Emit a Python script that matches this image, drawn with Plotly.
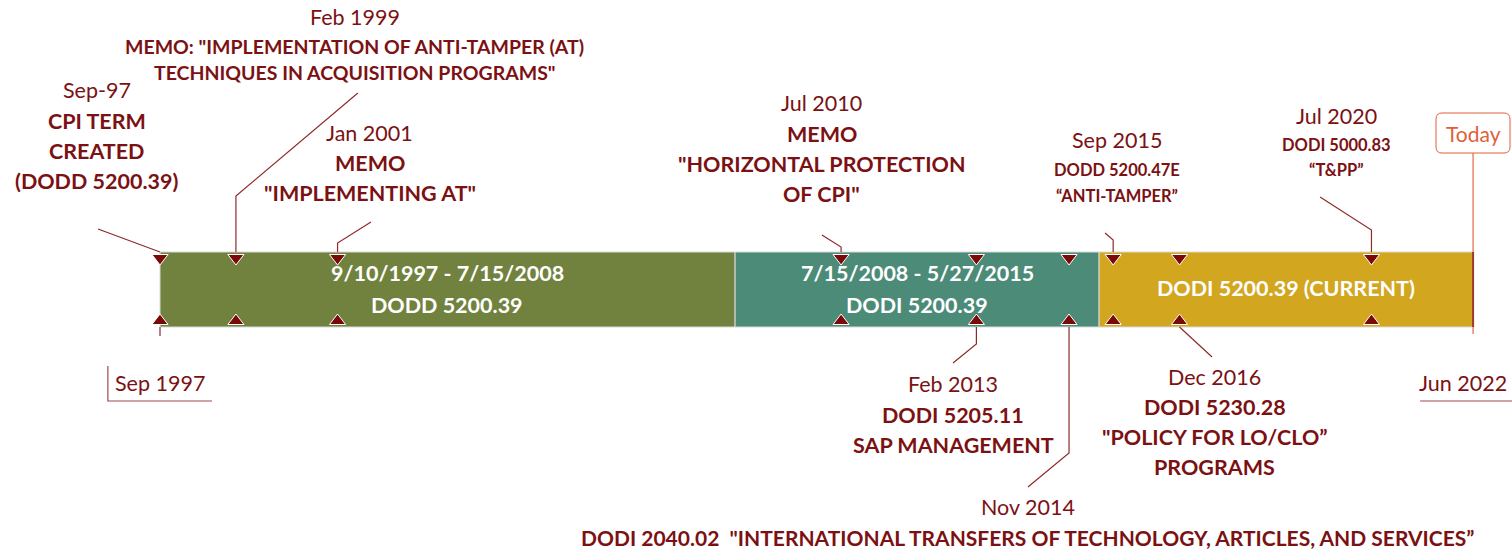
import plotly.graph_objects as go
from datetime import date, timedelta

# ---------------- data ----------------
period_starts = ["1997-09-10", "2008-07-15", "2015-05-27"]
period_ends = ["2008-07-15", "2015-05-27", "2022-06-15"]
period_line1 = ["9/10/1997 - 7/15/2008", "7/15/2008 - 5/27/2015", "DODI 5200.39 (CURRENT)"]
period_line2 = ["DODD 5200.39", "DODI 5200.39", ""]
period_colors = ["#71823F", "#4B8B78", "#D3A620"]

event_dates = ["1997-09-10", "1999-02-15", "2001-01-15", "2010-07-15", "2013-02-01",
               "2014-11-01", "2015-09-01", "2016-12-01", "2020-07-15"]
event_date_labels = ["Sep-97", "Feb 1999", "Jan 2001", "Jul 2010", "Feb 2013",
                     "Nov 2014", "Sep 2015", "Dec 2016", "Jul 2020"]
event_titles = [
    ["CPI TERM", "CREATED", "(DODD 5200.39)"],
    ["MEMO: \"IMPLEMENTATION OF ANTI-TAMPER (AT)", "TECHNIQUES IN ACQUISITION PROGRAMS\""],
    ["MEMO", "\"IMPLEMENTING AT\""],
    ["MEMO", "\"HORIZONTAL PROTECTION", "OF CPI\""],
    ["DODI 5205.11", "SAP MANAGEMENT"],
    ["DODI 2040.02  \"INTERNATIONAL TRANSFERS OF TECHNOLOGY, ARTICLES, AND SERVICES\u201d"],
    ["DODD 5200.47E", "\u201cANTI-TAMPER\u201d"],
    ["DODI 5230.28", "\"POLICY FOR LO/CLO\u201d", "PROGRAMS"],
    ["DODI 5000.83", "\u201cT&PP\u201d"],
]
today_date = "2022-06-15"
range_start_label = "Sep 1997"
range_end_label = "Jun 2022"

# ---------------- layout helpers (pixel geometry) ----------------
W, H = 1512, 550
BAR_TOP, BAR_BOT = 252, 327
PX_START, PX_END = 160, 1473


def d(s):
    return date.fromisoformat(s)


days_span = (d(today_date) - d(period_starts[0])).days
ppd = (PX_END - PX_START) / days_span
origin = d(period_starts[0]) - timedelta(days=PX_START / ppd)


def px2date(p):
    return (origin + timedelta(days=p / ppd)).isoformat()


def date2px(s):
    return (d(s) - origin).days * ppd


# per-event label placement: side, label center x(px), date y, first title y, spacing, title size, date size
placement = [
    ("top", 97, 90, 121, 30, 21.5, 21.5),
    ("top", 355, 17, 46, 26, 19.5, 21.5),
    ("top", 370, 133, 163, 30, 21.5, 21.5),
    ("top", 822, 103, 134, 30, 21.5, 21.5),
    ("bottom", 953, 384, 415, 30, 21.5, 21.5),
    ("bottom", 1028, 507, 537, 30, 21, 21.5),
    ("top", 1117, 140, 170, 26, 16.5, 21.5),
    ("bottom", 1215, 377, 407, 30, 21.5, 21.5),
    ("top", 1336, 116, 145, 25, 16.5, 21.5),
]
# leader: text anchor point (px) and elbow y (px) on the event's vertical
leaders = [
    ((98, 229), None),
    ((358, 93), 196),
    ((371, 222), 243),
    ((822, 235), 247),
    ((953, 363), 344),
    ((1028, 487), 453),
    ((1105, 233), 240),
    ((1212, 357), None),
    ((1320, 197), 230),
]

TXT = "#7B1113"
LEAD = "#8E2A2A"
FONT = "Lato"

fig = go.Figure()
shapes = []
annotations = []

# period bands
for s, e, c, l1, l2 in zip(period_starts, period_ends, period_colors, period_line1, period_line2):
    shapes.append(dict(type="rect", xref="x", yref="y", x0=s, x1=e, y0=BAR_TOP, y1=BAR_BOT,
                       fillcolor=c, line=dict(color="#D9D9D9", width=1), layer="below"))
    mid = (date2px(s) + date2px(e)) / 2
    if l2:
        annotations.append(dict(x=px2date(mid), y=273, text=f"<b>{l1}</b>", showarrow=False,
                                font=dict(family=FONT, size=21.5, color="white")))
        annotations.append(dict(x=px2date(mid), y=305, text=f"<b>{l2}</b>", showarrow=False,
                                font=dict(family=FONT, size=21.5, color="white")))
    else:
        annotations.append(dict(x=px2date(mid), y=288, text=f"<b>{l1}</b>", showarrow=False,
                                font=dict(family=FONT, size=21.5, color="white")))

# leader lines and labels
for k, (ev, (side, cx, dy, ty, sp, ts, ds), (anchor, elbow)) in enumerate(zip(event_dates, placement, leaders)):
    ex = date2px(ev)
    edge = BAR_TOP if side == "top" else BAR_BOT
    pts = [anchor]
    if elbow is not None:
        pts.append((ex, elbow))
    pts.append((ex, edge))
    fig.add_trace(go.Scatter(x=[px2date(p[0]) for p in pts], y=[p[1] for p in pts], mode="lines",
                             line=dict(color=LEAD, width=1.2), hoverinfo="skip", showlegend=False))
    annotations.append(dict(x=px2date(cx), y=dy, text=event_date_labels[k],
                            showarrow=False, font=dict(family=FONT, size=ds, color=TXT)))
    for i, t in enumerate(event_titles[k]):
        annotations.append(dict(x=px2date(cx), y=ty + i * sp, text=f"<b>{t}</b>", showarrow=False,
                                font=dict(family=FONT, size=ts, color=TXT)))

# small tick below first marker
fig.add_trace(go.Scatter(x=[event_dates[0], event_dates[0]], y=[BAR_BOT, 336], mode="lines",
                         line=dict(color=LEAD, width=1.2), hoverinfo="skip", showlegend=False))

# event markers (top pointing down, bottom pointing up)
fig.add_trace(go.Scatter(x=event_dates, y=[BAR_TOP + 6] * len(event_dates), mode="markers",
                         marker=dict(symbol="triangle-down", size=14, color="#7A0A0A",
                                     line=dict(color="white", width=1)),
                         hoverinfo="skip", showlegend=False))
fig.add_trace(go.Scatter(x=event_dates, y=[BAR_BOT - 6] * len(event_dates), mode="markers",
                         marker=dict(symbol="triangle-up", size=14, color="#7A0A0A",
                                     line=dict(color="white", width=1)),
                         hoverinfo="skip", showlegend=False))

# today line and bar end
shapes.append(dict(type="line", xref="x", yref="y", x0=today_date, x1=today_date, y0=153, y1=334,
                   line=dict(color="#E8866C", width=1.5)))
shapes.append(dict(type="line", xref="x", yref="y", x0=today_date, x1=today_date, y0=BAR_TOP, y1=BAR_BOT,
                   line=dict(color="#9A3B2E", width=2)))
# rounded "Today" box (paper coords)
bl, br, bt, bb, rad = 1436, 1510, 113, 153, 6
l, r = bl / W, br / W
t, b = 1 - bt / H, 1 - bb / H
rx, ry = rad / W, rad / H
box_path = (f"M {l+rx},{t} L {r-rx},{t} Q {r},{t} {r},{t-ry} L {r},{b+ry} Q {r},{b} {r-rx},{b} "
            f"L {l+rx},{b} Q {l},{b} {l},{b+ry} L {l},{t-ry} Q {l},{t} {l+rx},{t} Z")
shapes.append(dict(type="path", xref="paper", yref="paper", path=box_path, fillcolor="white",
                   line=dict(color="#E0603A", width=1)))
annotations.append(dict(x=today_date, y=133, text="Today", showarrow=False,
                        font=dict(family=FONT, size=21, color="#E0603A")))

# range labels
annotations.append(dict(x=px2date(113), y=383, xanchor="left", text=range_start_label, showarrow=False,
                        font=dict(family=FONT, size=21.5, color=TXT)))
fig.add_trace(go.Scatter(x=[px2date(108), px2date(108), px2date(212)], y=[366, 401, 401], mode="lines",
                         line=dict(color="#A04848", width=1.2), hoverinfo="skip", showlegend=False))
annotations.append(dict(x=px2date(1509), y=383, xanchor="right", text=range_end_label, showarrow=False,
                        font=dict(family=FONT, size=21.5, color=TXT)))
fig.add_trace(go.Scatter(x=[px2date(1420), px2date(1530)], y=[401, 401], mode="lines",
                         line=dict(color="#A04848", width=1.2), hoverinfo="skip", showlegend=False))

fig.update_layout(
    width=W, height=H, margin=dict(l=0, r=0, t=0, b=0),
    paper_bgcolor="white", plot_bgcolor="white",
    xaxis=dict(type="date", range=[px2date(0), px2date(W)], visible=False, fixedrange=True),
    yaxis=dict(range=[H, 0], visible=False, fixedrange=True),
    shapes=shapes, annotations=annotations, showlegend=False,
)
fig.write_html("out.html", config={"displayModeBar": False},
               post_script="document.body.style.margin='0';document.body.style.overflow='hidden';")
